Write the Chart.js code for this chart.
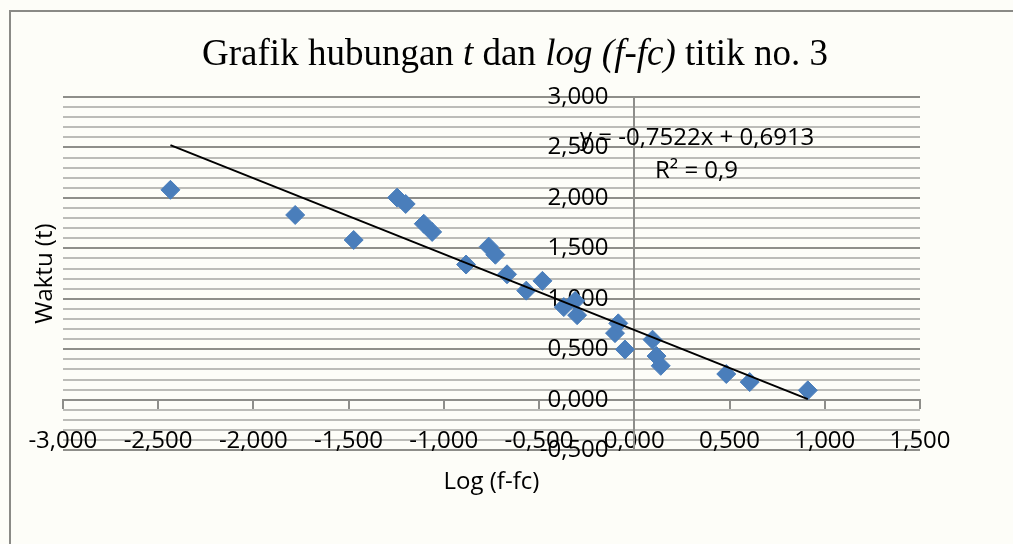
<!DOCTYPE html>
<html>
<head>
<meta charset="utf-8">
<script src="https://cdn.jsdelivr.net/npm/chart.js@4"></script>
<style>
  body { margin: 0; background: #fdfdf8; }
  #wrap { position: relative; width: 1013px; height: 544px; overflow: hidden; background: #fdfdf8; }
  #frame { position: absolute; left: 9px; top: 10px; width: 1100px; height: 600px;
           border-left: 2px solid #8a8a86; border-top: 2px solid #8a8a86; }
  #title { position: absolute; left: 0; width: 1030px; top: 31px; text-align: center;
           font-family: "Liberation Serif", serif; font-size: 37px; color: #000; white-space: nowrap; }
  .lbl { position: absolute; font-family: "Open Sans", sans-serif; font-size: 24px; color: #000; white-space: nowrap; }
  canvas { position: absolute; left: 0; top: 0; }
</style>
</head>
<body>
<div id="wrap">
  <div id="frame"></div>
  <canvas id="grafik" width="1013" height="544"></canvas>
  <div id="title">Grafik hubungan <i>t</i> dan <i>log (f-fc)</i> titik no. 3</div>
  <div class="lbl" id="persamaan" style="left:580px; top:119px;">y = -0,7522x + 0,6913</div>
  <div class="lbl" id="r2" style="left:655px; top:152px;">R² = 0,9</div>
</div>
<script>
// === Data titik (log (f-fc), waktu) ===
const logF = [-2.435, -1.780, -1.473, -1.245, -1.200, -1.105, -1.061, -0.883, -0.764, -0.729,
              -0.668, -0.567, -0.482, -0.370, -0.310, -0.300, -0.101, -0.084, -0.049, 0.096,
              0.117, 0.139, 0.483, 0.606, 0.911];
const waktu = [2.080, 1.831, 1.583, 2.003, 1.940, 1.744, 1.663, 1.340, 1.517, 1.437,
               1.243, 1.081, 1.178, 0.918, 0.980, 0.838, 0.660, 0.757, 0.498, 0.595,
               0.433, 0.336, 0.255, 0.175, 0.093];

// === Garis tren (ujung-ujung garis) ===
const trenX = [-2.435, 0.911];
const trenY = [2.523, 0.006];

// === Batas sumbu ===
const xMin = -3, xMax = 1.5, xStep = 0.5;
const yMin = -0.5, yMax = 3, yStep = 0.5, yMinor = 0.1;
const yLabelX = -0.135; // label sumbu y sedikit di kiri garis x = 0

const fmt = v => v.toFixed(3).replace(".", ",");
const isMajor = v => Math.abs(v * 2 - Math.round(v * 2)) < 1e-6;

const noSpace = scale => {
  if (scale.isHorizontal()) scale.height = 0; else scale.width = 0;
  scale.paddingLeft = 0; scale.paddingRight = 0;
  scale.paddingTop = 0; scale.paddingBottom = 0;
};

const font = { family: "'Open Sans', sans-serif", size: 24 };
const axisGray = "#8e8e8a";

const ctx = document.getElementById("grafik").getContext("2d");
new Chart(ctx, {
  type: "scatter",
  data: {
    datasets: [
      {
        type: "line",
        data: trenX.map((x, i) => ({ x, y: trenY[i] })),
        borderColor: "#000",
        borderWidth: 2,
        pointRadius: 0,
        fill: false
      },
      {
        data: logF.map((x, i) => ({ x, y: waktu[i] })),
        pointStyle: "rectRot",
        pointRadius: 9.5,
        pointHoverRadius: 9.5,
        backgroundColor: "#4a7ebb",
        borderColor: "#4a7ebb",
        borderWidth: 1
      }
    ]
  },
  options: {
    responsive: false,
    animation: false,
    devicePixelRatio: 1,
    layout: { padding: { left: 10, right: 93, top: 97, bottom: 47 } },
    plugins: { legend: { display: false }, tooltip: { enabled: false } },
    scales: {
      x: {
        type: "linear", position: "bottom", min: xMin, max: xMax,
        ticks: { display: false },
        grid: { display: false },
        border: { display: false },
        title: { display: true, text: "Log (f-fc)", color: "#000", font, padding: { top: 10, bottom: 0 } }
      },
      y: {
        type: "linear", position: "left", min: yMin, max: yMax,
        ticks: { display: false, stepSize: yMinor },
        grid: {
          drawTicks: false,
          lineWidth: 2,
          color: c => (c.tick && isMajor(c.tick.value)) ? axisGray : "#bcbcb8"
        },
        border: { display: false },
        title: { display: true, text: "Waktu (t)", color: "#000", font, padding: { top: 21, bottom: 3 } }
      },
      xa: {
        type: "linear", axis: "x", position: { y: 0 }, min: xMin, max: xMax,
        ticks: { stepSize: xStep, callback: fmt, color: "#000", font, padding: 19, maxRotation: 0, autoSkip: false },
        grid: { drawOnChartArea: false, tickLength: 8, tickColor: axisGray, lineWidth: 2 },
        border: { color: axisGray, width: 2 },
        afterFit: noSpace
      },
      ya: {
        type: "linear", axis: "y", position: { x: 0 }, min: yMin, max: yMax,
        ticks: { stepSize: yStep, display: false },
        grid: { drawOnChartArea: false, tickLength: 8, tickColor: axisGray, lineWidth: 2 },
        border: { color: axisGray, width: 2 },
        afterFit: noSpace
      },
      yl: {
        type: "linear", axis: "y", position: { x: yLabelX }, min: yMin, max: yMax, z: 1,
        ticks: { stepSize: yStep, callback: fmt, color: "#000", font, autoSkip: false },
        grid: { display: false, drawTicks: false },
        border: { display: false },
        afterFit: noSpace
      }
    }
  }
});
</script>
</body>
</html>
